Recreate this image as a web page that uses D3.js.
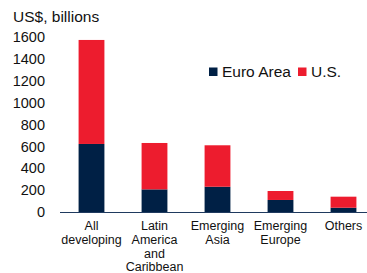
<!DOCTYPE html>
<html><head><meta charset="utf-8">
<script src="https://cdn.jsdelivr.net/npm/d3@7"></script>
<style>body{margin:0;background:#fff}svg{display:block}text{font-family:"Liberation Sans",Arial,sans-serif;fill:#111}</style>
</head><body><svg id="c" width="367" height="273"></svg>
<script>
const categories = ["All developing", "Latin America and Caribbean", "Emerging Asia", "Emerging Europe", "Others"];
const categoryLines = [["All","developing"],["Latin","America","and","Caribbean"],["Emerging","Asia"],["Emerging","Europe"],["Others"]];
const euroArea = [622, 207, 231, 110, 39];
const us = [951, 424, 379, 82, 101];
const yTicks = [0, 200, 400, 600, 800, 1000, 1200, 1400, 1600];
const seriesNames = ["Euro Area", "U.S."];
const colors = ["#002045", "#ed1c2e"];

const svg = d3.select("#c");
const x = d3.scaleBand().domain(categories).range([60, 375]).paddingInner(0.59).paddingOuter(0.295);
const y = d3.scaleLinear().domain([0, 1600]).range([212, 37]);

const data = categories.map((c, i) => ({cat: c, euro: euroArea[i], us: us[i]}));
const stacked = d3.stack().keys(["euro", "us"])(data);

svg.append("g").selectAll("g").data(stacked).join("g")
  .attr("fill", (d, i) => colors[i])
  .selectAll("rect").data(d => d).join("rect")
  .attr("x", d => x(d.data.cat))
  .attr("width", x.bandwidth())
  .attr("y", d => y(d[1]))
  .attr("height", d => y(d[0]) - y(d[1]));

// y axis labels
const yAxis = d3.axisLeft(y).tickValues(yTicks).tickFormat(d3.format("d")).tickSize(0).tickPadding(0);
const yg = svg.append("g").attr("transform", "translate(45,0)").call(yAxis);
yg.select(".domain").remove();
yg.selectAll("text").attr("font-size", "14.5px").attr("fill", "#111").attr("font-family", '"Liberation Sans",Arial,sans-serif');

// baseline
svg.append("line").attr("x1", 60).attr("x2", 367).attr("y1", y(0) + 0.5).attr("y2", y(0) + 0.5)
  .attr("stroke", "#1f3a5f").attr("stroke-width", 1.2);

// category labels
const xg = svg.append("g");
categories.forEach((c, i) => {
  const t = xg.append("text").attr("x", x(c) + x.bandwidth() / 2).attr("y", 230)
    .attr("text-anchor", "middle").attr("font-size", "12.5px");
  categoryLines[i].forEach((ln, j) => {
    t.append("tspan").attr("x", x(c) + x.bandwidth() / 2).attr("dy", j === 0 ? 0 : 13.8).text(ln);
  });
});

// title
svg.append("text").attr("x", 13).attr("y", 22).attr("font-size", "15.5px").text("US$, billions");

// legend
const leg = [{x: 209, tx: 222}, {x: 298, tx: 311}];
seriesNames.forEach((n, i) => {
  svg.append("rect").attr("x", leg[i].x).attr("y", 67.5).attr("width", 8.5).attr("height", 8.5).attr("fill", colors[i]);
  svg.append("text").attr("x", leg[i].tx).attr("y", 77).attr("font-size", "15.5px").text(n);
});
</script></body></html>
